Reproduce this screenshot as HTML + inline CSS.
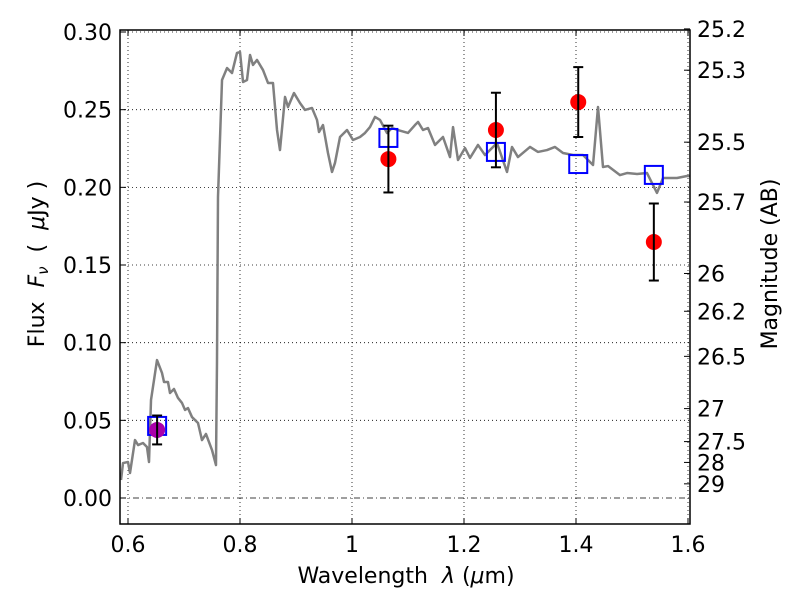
<!DOCTYPE html>
<html><head><meta charset="utf-8"><style>
body{margin:0;background:#fff;}
svg text{font-family:"DejaVu Sans","Liberation Sans",sans-serif;}
</style></head><body>
<svg id="chart" width="800" height="600" xmlns="http://www.w3.org/2000/svg"></svg>
<script>
const specLam=[0.5875,0.5911,0.6,0.6036,0.6125,0.6179,0.6268,0.6339,0.6375,0.6411,0.6518,0.6607,0.6643,0.6714,0.675,0.6821,0.6893,0.6964,0.7018,0.7071,0.7143,0.725,0.7321,0.7393,0.75,0.7571,0.7589,0.7607,0.7679,0.7768,0.7857,0.7946,0.8,0.8054,0.8125,0.8179,0.8232,0.8304,0.8411,0.85,0.8589,0.8661,0.8714,0.8804,0.8857,0.8964,0.9071,0.9161,0.9286,0.9375,0.9411,0.9482,0.9571,0.9643,0.9696,0.9786,0.9911,1.0018,1.0143,1.0232,1.0321,1.0411,1.05,1.0625,1.0714,1.0821,1.1,1.1125,1.1179,1.1268,1.1357,1.1482,1.1625,1.175,1.1804,1.1893,1.2018,1.2107,1.225,1.2375,1.2589,1.2768,1.2857,1.2964,1.3179,1.3321,1.3482,1.3625,1.3768,1.3946,1.4125,1.4304,1.4393,1.4482,1.4571,1.4786,1.4911,1.5089,1.5268,1.5446,1.5554,1.5804,1.5982,1.6036];
const specFlux=[0.0116,0.0225,0.0232,0.0161,0.0373,0.0341,0.0354,0.0328,0.0232,0.0631,0.0888,0.0805,0.0747,0.0747,0.0676,0.0702,0.0644,0.0612,0.0567,0.0579,0.0521,0.0483,0.0373,0.0412,0.0309,0.0212,0.0869,0.1938,0.2691,0.2768,0.2736,0.2865,0.2871,0.2678,0.2691,0.2852,0.2788,0.282,0.2755,0.2672,0.2672,0.2369,0.224,0.2582,0.2517,0.2607,0.2543,0.2498,0.2511,0.2434,0.2356,0.2401,0.2221,0.2099,0.2157,0.2324,0.2369,0.2305,0.2324,0.235,0.2388,0.2453,0.2434,0.235,0.2382,0.2369,0.235,0.2401,0.2421,0.2369,0.2382,0.2273,0.2324,0.2195,0.2388,0.2176,0.2253,0.2189,0.2273,0.2208,0.2285,0.2099,0.226,0.2195,0.226,0.2228,0.224,0.226,0.2221,0.2208,0.2208,0.2144,0.2517,0.2131,0.2137,0.2079,0.2092,0.2086,0.2092,0.1964,0.206,0.206,0.2073,0.2073];
const obsLam=[0.652,1.065,1.257,1.404,1.539];
const obsFlux=[0.0438,0.2182,0.2369,0.2549,0.1648];
const obsErr=[0.0093,0.0215,0.024,0.0225,0.0248];
const modelFlux=[0.0464,0.2318,0.2228,0.215,0.208];
const xTicks=[0.6,0.8,1.0,1.2,1.4,1.6];
const xTickLabels=["0.6","0.8","1","1.2","1.4","1.6"];
const yTicks=[0,0.05,0.1,0.15,0.2,0.25,0.3];
const yTickLabels=["0.00","0.05","0.10","0.15","0.20","0.25","0.30"];
const magTicks=[25.2,25.3,25.5,25.7,26,26.2,26.5,27,27.5,28,29];
const magLabels=["25.2","25.3","25.5","25.7","26","26.2","26.5","27","27.5","28","29"];

const L=120,R=690,T=30,B=524;
const FS=22;
const X=v=>128+(v-0.6)*560;
const Y=v=>498-v*1553.3;
const svg=document.getElementById('chart');
const NS='http://www.w3.org/2000/svg';
function mk(tag,at,parent){const e=document.createElementNS(NS,tag);for(const k in at)e.setAttribute(k,at[k]);(parent||svg).appendChild(e);return e;}

xTicks.forEach(v=>{const g=mk('line',{x1:X(v),x2:X(v),y1:T,y2:B,stroke:'#000','stroke-width':0.8,'stroke-dasharray':'1,3'});

});
yTicks.forEach(v=>{const g=mk('line',{x1:L,x2:R,y1:Y(v),y2:Y(v),stroke:'#000','stroke-width':0.8,'stroke-dasharray':v===0?'6,3,1,3':'1,3'});

});

const clip=mk('clipPath',{id:'pc'});mk('rect',{x:L,y:T,width:R-L,height:B-T},clip);
const sp=mk('polyline',{points:specLam.map((l,i)=>X(l)+','+Y(specFlux[i])).join(' '),fill:'none',stroke:'#808080','stroke-width':2.5,'stroke-linejoin':'round','clip-path':'url(#pc)'});



obsLam.forEach((l,i)=>{const r=mk('rect',{x:X(l)-9,y:Y(modelFlux[i])-9,width:18,height:18,fill:'none',stroke:'#0000ff','stroke-width':2});

});
obsLam.forEach((l,i)=>{
 const c=mk('circle',{cx:X(l),cy:Y(obsFlux[i]),r:8,fill:i===0?'#aa00aa':'#ff0000'});
 
 
 const g=mk('g',{stroke:'#000','stroke-width':2});
 
 
 const y1=Y(obsFlux[i]+obsErr[i]),y2=Y(obsFlux[i]-obsErr[i]),x=X(l);
 mk('line',{x1:x,x2:x,y1:y1,y2:y2},g);
 mk('line',{x1:x-5,x2:x+5,y1:y1,y2:y1},g);
 mk('line',{x1:x-5,x2:x+5,y1:y2,y2:y2},g);
});

const fr=mk('rect',{x:L,y:T,width:R-L,height:B-T,fill:'none',stroke:'#000','stroke-width':1.5});



xTicks.forEach((v,i)=>{mk('line',{x1:X(v),x2:X(v),y1:B,y2:B-6,stroke:'#000'});mk('line',{x1:X(v),x2:X(v),y1:T,y2:T+6,stroke:'#000'});
const t=mk('text',{x:X(v),y:B+28,'text-anchor':'middle','font-size':FS});t.textContent=xTickLabels[i];

});
yTicks.forEach((v,i)=>{mk('line',{x1:L,x2:L+6,y1:Y(v),y2:Y(v),stroke:'#000'});
const t=mk('text',{x:L-8,y:Y(v)+8,'text-anchor':'end','font-size':FS});t.textContent=yTickLabels[i];

});
magTicks.forEach((m,i)=>{const y=Y(Math.pow(10,(23.9-m)/2.5));mk('line',{x1:R,x2:R-6,y1:y,y2:y,stroke:'#000'});
const t=mk('text',{x:R+7,y:y+8,'text-anchor':'start','font-size':FS});t.textContent=magLabels[i];

});

let t=mk('text',{x:406,y:583,'text-anchor':'middle','font-size':FS});
t.innerHTML='Wavelength\u00a0\u00a0<tspan font-style="italic">λ</tspan> (<tspan font-style="italic">μ</tspan>m)';


t=mk('text',{x:0,y:0,'text-anchor':'middle','font-size':FS,transform:'translate(44,264) rotate(-90)'});
t.innerHTML='Flux\u00a0\u00a0<tspan font-style="italic">F<tspan font-size="15" dy="4">ν</tspan></tspan><tspan dy="-4">\u00a0\u00a0(\u00a0\u00a0</tspan><tspan font-style="italic">μ</tspan>Jy )';


t=mk('text',{x:0,y:0,'text-anchor':'middle','font-size':FS,transform:'translate(777,264) rotate(-90)'});
t.textContent='Magnitude (AB)';


</script>
</body></html>
